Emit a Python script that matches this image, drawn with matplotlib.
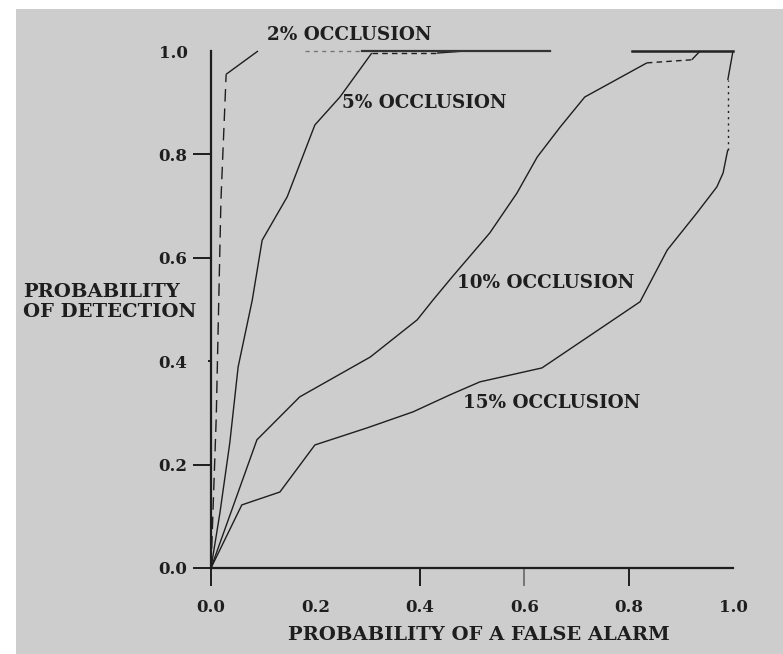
import numpy as np
import matplotlib
matplotlib.use("Agg")
import matplotlib.pyplot as plt
from matplotlib.patches import Rectangle

# ROC curves
fa_2 = [0.0, 0.010, 0.019, 0.029, 0.090]
pd_2 = [0.0, 0.29, 0.71, 0.955, 1.0]

fa_5 = [0.0, 0.017, 0.036, 0.052, 0.079, 0.098, 0.146, 0.199, 0.247, 0.308, 0.433, 0.487]
pd_5 = [0.0, 0.106, 0.242, 0.389, 0.518, 0.634, 0.718, 0.857, 0.911, 0.996, 0.996, 1.0]

fa_10 = [0.0, 0.088, 0.170, 0.305, 0.395, 0.425, 0.462, 0.534, 0.586, 0.625, 0.669,
         0.716, 0.835, 0.921, 0.937]
pd_10 = [0.0, 0.248, 0.331, 0.408, 0.480, 0.518, 0.563, 0.648, 0.725, 0.795, 0.853,
         0.911, 0.977, 0.983, 1.0]

fa_15 = [0.0, 0.059, 0.132, 0.199, 0.299, 0.387, 0.458, 0.515, 0.634, 0.822, 0.874,
         0.931, 0.969, 0.981, 0.990, 0.990, 1.0]
pd_15 = [0.0, 0.122, 0.147, 0.238, 0.271, 0.302, 0.335, 0.360, 0.387, 0.515, 0.615,
         0.687, 0.737, 0.764, 0.809, 0.944, 1.0]

# shared plateau at Pd = 1.0 (pieces visible in the scan)
plateau_faint = [0.18, 0.29]
plateau_solid = [0.29, 0.65]
plateau_right = [0.807, 1.0]

labels = ["2% OCCLUSION", "5% OCCLUSION", "10% OCCLUSION", "15% OCCLUSION"]
label_x = [0.107, 0.251, 0.471, 0.483]
label_y = [1.031, 0.899, 0.551, 0.319]

ticks = [0.0, 0.2, 0.4, 0.6, 0.8, 1.0]
tick_labels = ["0.0", "0.2", "0.4", "0.6", "0.8", "1.0"]

BG = "#cdcdcd"
INK = "#1e1e1e"
FONT = "DejaVu Serif"

fig = plt.figure(figsize=(7.83, 6.54), dpi=100)
fig.patch.set_facecolor("white")
fig.patches.append(Rectangle((16 / 783, 0), 1 - 16 / 783, 1 - 9 / 654,
                             transform=fig.transFigure, facecolor=BG,
                             edgecolor="none", zorder=-10))

ax = fig.add_axes([211 / 783, 86 / 654, 522 / 783, 517 / 654])
ax.set_facecolor("none")


def draw(xs, ys, pieces):
    # pieces: (start index, end index, linestyle)
    for i0, i1, ls in pieces:
        ax.plot(xs[i0:i1 + 1], ys[i0:i1 + 1], color=INK, lw=1.0, ls=ls,
                clip_on=False, solid_capstyle="butt")


draw(fa_2, pd_2, [(0, 3, (0, (9, 5))), (3, 4, "-")])
draw(fa_5, pd_5, [(0, 9, "-"), (9, 10, (0, (4, 3))), (10, 11, "-")])
draw(fa_10, pd_10, [(0, 12, "-"), (12, 13, (0, (4, 3))), (13, 14, "-")])
draw(fa_15, pd_15, [(0, 14, "-"), (14, 15, (0, (1.5, 3))), (15, 16, "-")])

ax.plot(plateau_faint, [1.0, 1.0], color="#777777", lw=1.0, ls=(0, (3, 3)), clip_on=False)
ax.plot(plateau_solid, [1.0, 1.0], color="#333333", lw=1.6, clip_on=False)
ax.plot(plateau_right, [1.0, 1.0], color="#222222", lw=1.8, clip_on=False)

for txt, x, y in zip(labels, label_x, label_y):
    ax.text(x, y, txt, fontsize=13.2, family=FONT, fontweight="bold", color=INK,
            ha="left", va="center", clip_on=False)

ax.set_xlim(0, 1.0)
ax.set_ylim(0, 1.0)
for s in ["top", "right"]:
    ax.spines[s].set_visible(False)
for s in ["left", "bottom"]:
    ax.spines[s].set_linewidth(1.6)
    ax.spines[s].set_color(INK)

ax.set_xticks(ticks)
ax.set_xticklabels(tick_labels)
ax.set_yticks(ticks)
ax.set_yticklabels(tick_labels)
ax.tick_params(axis="both", direction="out", length=13, width=1.4, color=INK,
               labelsize=12, labelcolor=INK)
ax.tick_params(axis="x", pad=9)
ax.tick_params(axis="y", pad=4)
for lab in ax.get_xticklabels() + ax.get_yticklabels():
    lab.set_family(FONT)
    lab.set_fontweight("bold")

# some tick marks are missing or faint in the scan
xt = ax.xaxis.get_major_ticks()
yt = ax.yaxis.get_major_ticks()
xt[1].tick1line.set_visible(False)
xt[5].tick1line.set_visible(False)
xt[3].tick1line.set_alpha(0.5)
yt[2].tick1line.set_markersize(2)
yt[5].tick1line.set_visible(False)

fig.text(23 / 783, 1 - 302 / 654, "PROBABILITY\nOF DETECTION", fontsize=14,
         family=FONT, fontweight="bold", color=INK, ha="left", va="center",
         linespacing=1.1)
fig.text(479 / 783, 1 - 635 / 654, "PROBABILITY OF A FALSE ALARM", fontsize=14,
         family=FONT, fontweight="bold", color=INK, ha="center", va="center")

fig.savefig("out.png", dpi=100, facecolor=fig.get_facecolor())
